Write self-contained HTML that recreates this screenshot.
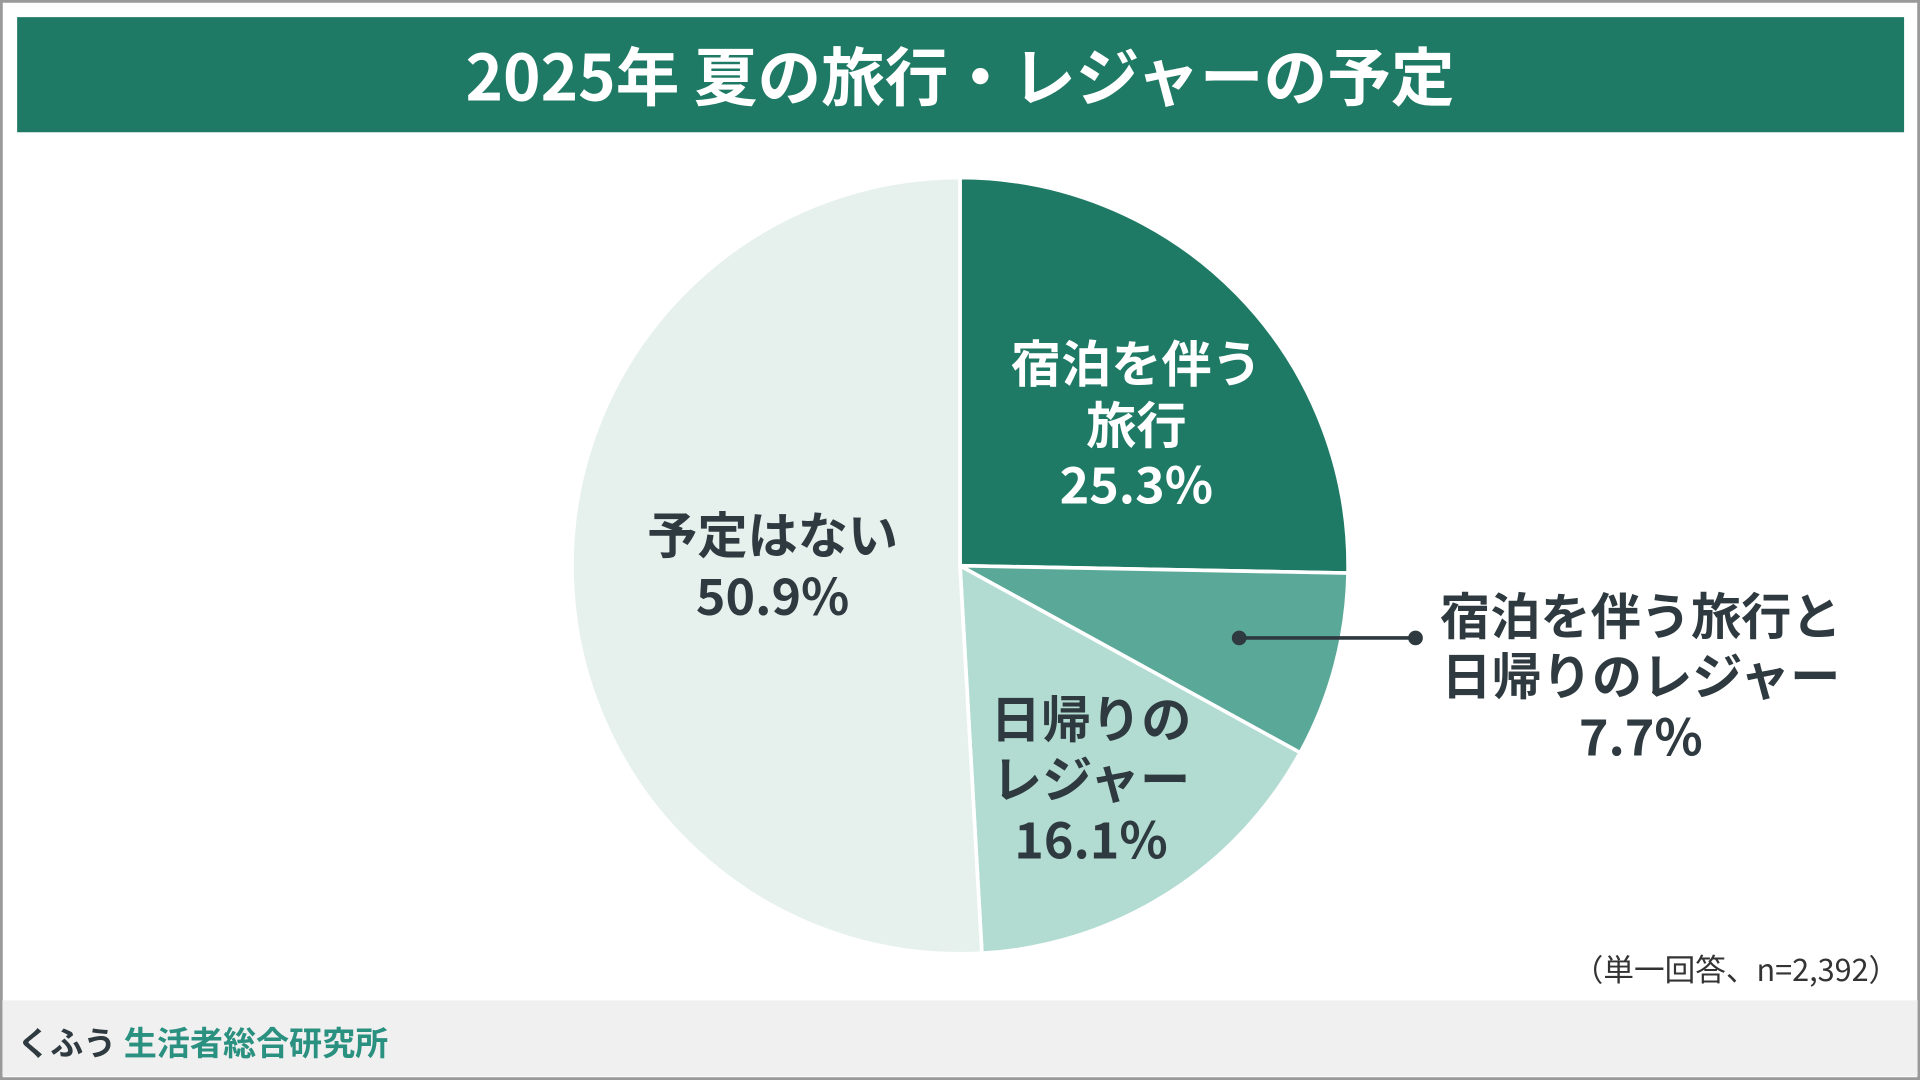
<!DOCTYPE html>
<html><head><meta charset="utf-8"><style>
html,body{margin:0;padding:0;background:#fff;}
svg{display:block;}
text{font-family:"Noto Sans CJK JP","Liberation Sans",sans-serif;font-weight:bold;}
</style></head><body>
<svg width="1920" height="1080" viewBox="0 0 1568 882" xmlns="http://www.w3.org/2000/svg">
<rect x="0" y="0" width="1568" height="882" fill="#fff"/>
<rect x="1" y="1" width="1566" height="880" fill="none" stroke="#9a9a9a" stroke-width="2.5"/>
<rect x="14" y="14" width="1541" height="94" fill="#1f7a65"/>
<text x="784" y="60" fill="#fff" font-size="52" text-anchor="middle" dominant-baseline="central">2025年 夏の旅行・レジャーの予定</text>

<g stroke="#fff" stroke-width="3" stroke-linejoin="round">
<path d="M784 462 L784 145 A317 317 0 0 1 1100.9 468 Z" fill="#1f7a65"/>
<path d="M784 462 L1100.9 468 A317 317 0 0 1 1061.8 614.7 Z" fill="#5aa897"/>
<path d="M784 462 L1061.8 614.7 A317 317 0 0 1 801.9 778.5 Z" fill="#b2dcd2"/>
<path d="M784 462 L801.9 778.5 A317 317 0 1 1 784 145 Z" fill="#e6f1ee"/>
</g>

<g font-size="41" text-anchor="middle" dominant-baseline="central">
<text x="928" y="295" fill="#fff">宿泊を伴う</text>
<text x="928" y="345" fill="#fff">旅行</text>
<text x="928" y="394" fill="#fff">25.3%</text>
<text x="631" y="435" fill="#2e3a3f">予定はない</text>
<text x="631" y="485" fill="#2e3a3f">50.9%</text>
<text x="891" y="585" fill="#2e3a3f">日帰りの</text>
<text x="891" y="634" fill="#2e3a3f">レジャー</text>
<text x="891" y="684" fill="#2e3a3f">16.1%</text>
<text x="1340" y="501" fill="#2e3a3f">宿泊を伴う旅行と</text>
<text x="1340" y="550" fill="#2e3a3f">日帰りのレジャー</text>
<text x="1340" y="600" fill="#2e3a3f">7.7%</text>
</g>
<line x1="1012" y1="521" x2="1156" y2="521" stroke="#2e3a3f" stroke-width="3"/>
<circle cx="1012" cy="521" r="6" fill="#2e3a3f"/>
<circle cx="1156" cy="521" r="6" fill="#2e3a3f"/>

<text x="1551" y="790" fill="#333" font-size="25" style="font-weight:normal" text-anchor="end" dominant-baseline="central">（単一回答、n=2,392）</text>

<rect x="2" y="817" width="1564" height="62" fill="#f0f0f0"/>
<text x="14" y="850" font-size="27" dominant-baseline="central"><tspan fill="#2e3a3f">くふう </tspan><tspan fill="#2a9080">生活者総合研究所</tspan></text>
</svg>
</body></html>
